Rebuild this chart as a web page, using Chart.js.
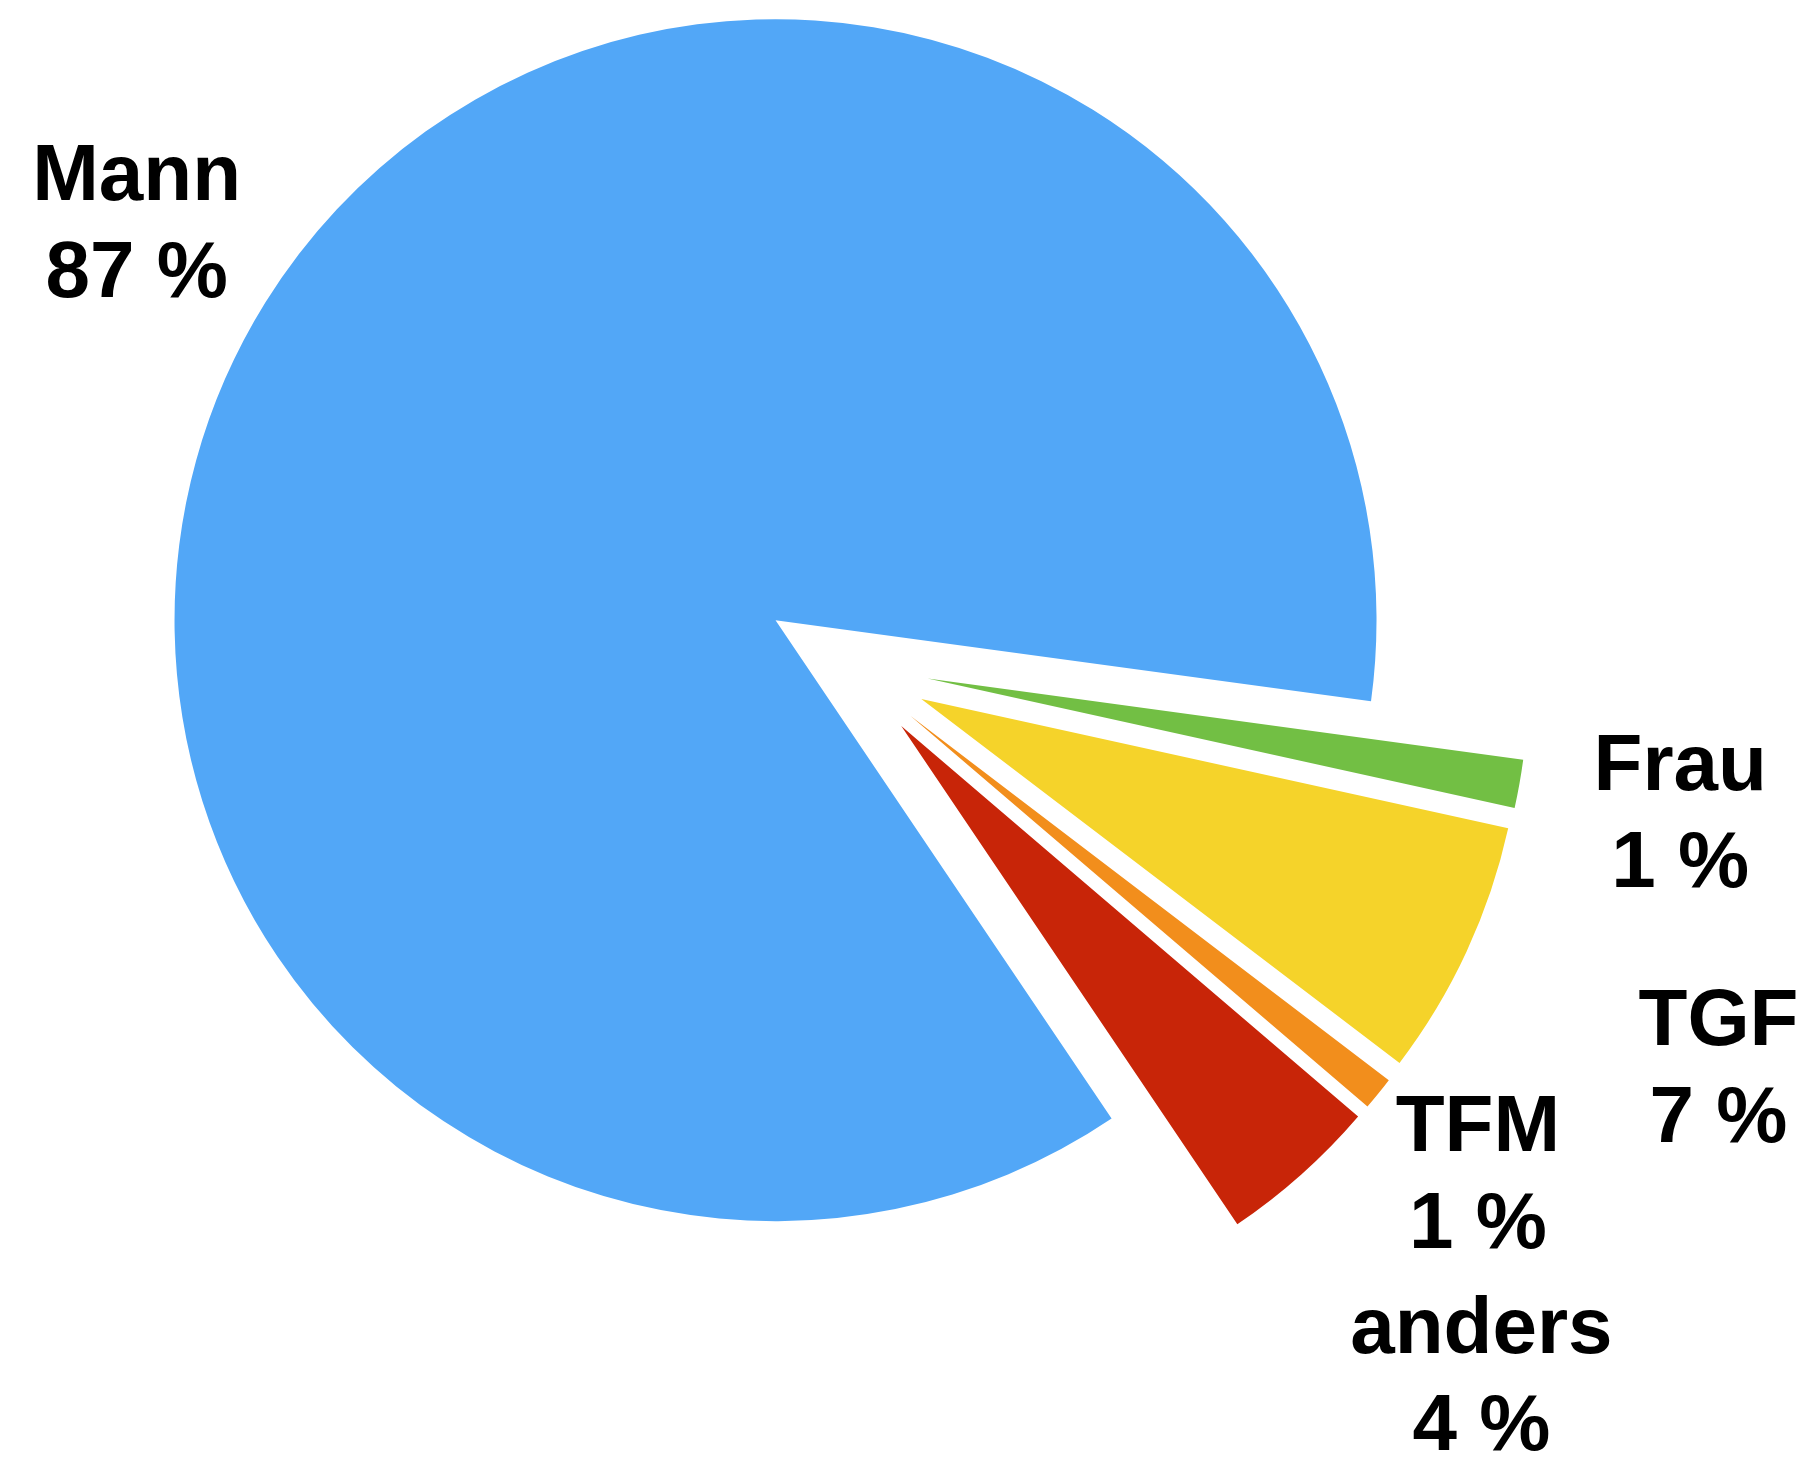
<!DOCTYPE html>
<html>
<head>
<meta charset="utf-8">
<script src="https://cdn.jsdelivr.net/npm/chart.js@4/dist/chart.umd.min.js"></script>
<style>
  html, body { margin: 0; padding: 0; background: #fff; }
  #wrap { width: 1814px; height: 1460px; }
</style>
</head>
<body>
<div id="wrap"><canvas id="pieChart" width="1814" height="1460"></canvas></div>
<script>
const labels = ["Mann", "Frau", "TGF", "TFM", "anders"];
const shares = [86.6, 1.3, 6.9, 0.9, 4.3];
const percentLabels = ["87 %", "1 %", "7 %", "1 %", "4 %"];
const colors = ["#52a7f7", "#72bf44", "#f5d32a", "#f28e1c", "#c82508"];

// every wedge is pulled out by the same distance along its bisector.
// Chart.js' own offset also grows the radius and trims the angle, so do it by hand.
const explode = {
  id: "explode",
  beforeDatasetDraw(chart, args, opts) {
    const { ctx, chartArea } = chart;
    args.meta.data.forEach((arc) => {
      const p = arc.getProps(["startAngle", "endAngle"], true);
      const mid = (p.startAngle + p.endAngle) / 2;
      ctx.save();
      ctx.translate(Math.cos(mid) * opts.distance, Math.sin(mid) * opts.distance);
      arc.draw(ctx, chartArea);
      ctx.restore();
    });
    return false;
  }
};

const sliceLabels = {
  id: "sliceLabels",
  afterDatasetsDraw(chart, args, opts) {
    const { ctx } = chart;
    const meta = chart.getDatasetMeta(0);
    ctx.save();
    ctx.fillStyle = "#000";
    ctx.font = "bold 80px 'Liberation Sans', Arial, sans-serif";
    ctx.textAlign = "center";
    ctx.textBaseline = "alphabetic";
    meta.data.forEach((arc, i) => {
      const p = arc.getProps(["x", "y", "startAngle", "endAngle", "outerRadius"], true);
      const mid = (p.startAngle + p.endAngle) / 2;
      const r = p.outerRadius * opts.distance[i];
      const cx = p.x + Math.cos(mid) * r;
      const cy = p.y + Math.sin(mid) * r;
      ctx.fillText(labels[i], cx, cy - 23);
      ctx.fillText(percentLabels[i], cx, cy + 74);
    });
    ctx.restore();
  }
};

new Chart(document.getElementById("pieChart").getContext("2d"), {
  type: "pie",
  data: {
    labels,
    datasets: [{
      data: shares,
      backgroundColor: colors,
      borderWidth: 0,
      offset: 0,
      hoverOffset: 0
    }]
  },
  options: {
    responsive: false,
    animation: false,
    events: [],
    rotation: 146,
    radius: 601,
    layout: { padding: { left: 0, top: 0, right: 122, bottom: 132 } },
    plugins: {
      legend: { display: false },
      tooltip: { enabled: false },
      explode: { distance: 83 },
      sliceLabels: { distance: [1.39, 1.41, 1.60, 1.351, 1.588] }
    }
  },
  plugins: [explode, sliceLabels]
});
</script>
</body>
</html>
